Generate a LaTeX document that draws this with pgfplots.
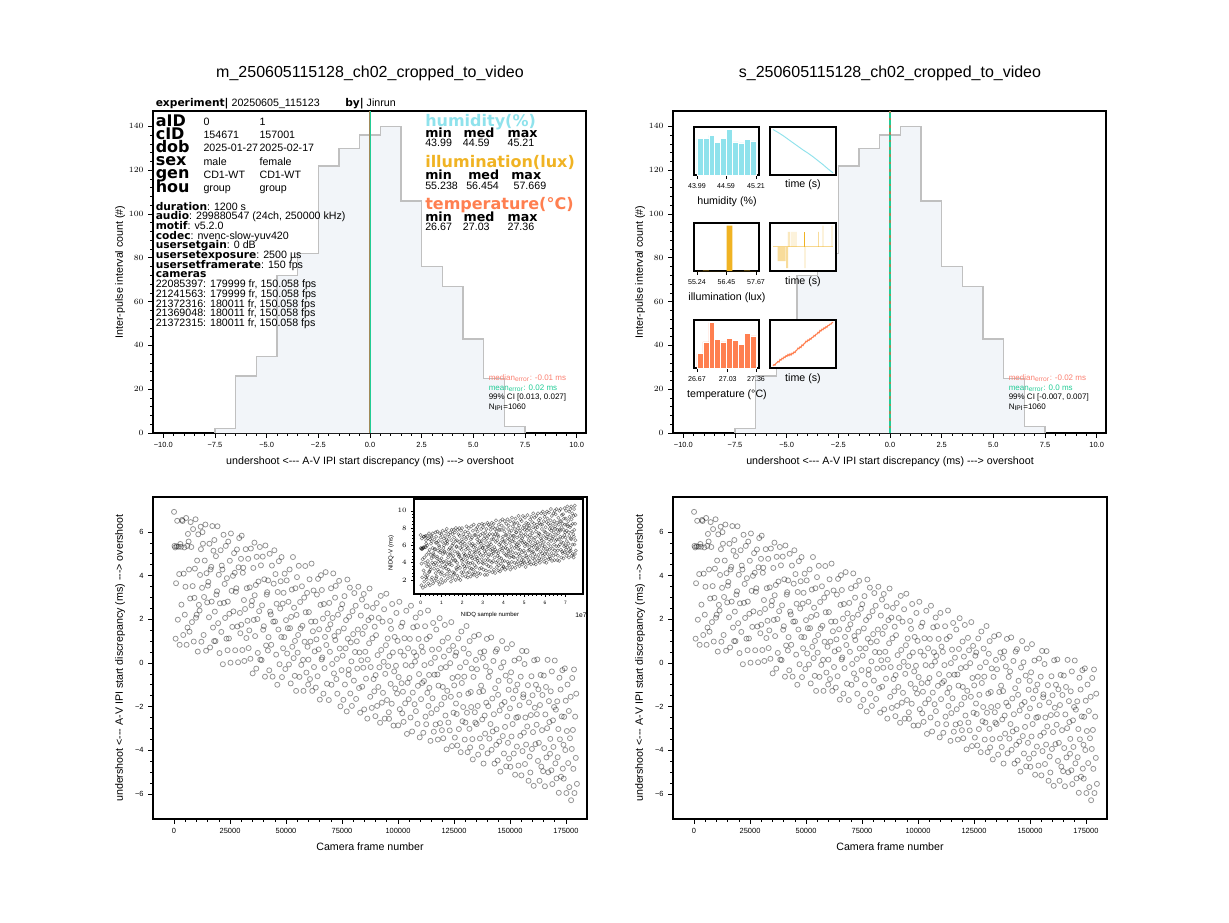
\documentclass[border=0pt]{standalone}
\usepackage{fontspec}
\setmainfont{Liberation Sans}
\newfontfamily\dv{DejaVu Sans}
\usepackage{pgfplots}
\pgfplotsset{compat=1.18}
\usepackage{pgfplotstable}

\definecolor{histfill}{HTML}{F2F5F9}
\definecolor{histedge}{HTML}{C0C0C0}
\definecolor{meancol}{HTML}{22CC96}
\definecolor{medline}{HTML}{A08A5A}
\definecolor{medtxt}{HTML}{FA7F70}
\definecolor{humid}{HTML}{8FE2EC}
\definecolor{illum}{HTML}{F0B323}
\definecolor{temp}{HTML}{FF7F50}

% IPI discrepancy histogram (step outline, 1 ms bins)
\pgfplotstableread{
x n
-7.5 0
-7.5 2
-6.5 26
-5.5 35
-4.5 72
-3.5 82
-2.5 122
-1.5 130
-0.5 136
0.5 140
1.5 106
2.5 76
3.5 67
4.5 43
5.5 25
6.5 3
7.5 3
7.5 0
}\hist

% f: camera frame (thousands), d: A-V discrepancy (ms), v: NIDQ-V (ms)
\pgfplotstableread{
f d v
0.0 6.92 7.2
0.2 5.36 5.7
0.5 5.29 5.6
0.7 1.11 1.4
0.9 3.65 3.9
1.2 5.34 5.6
1.4 6.51 6.8
1.7 1.98 2.3
2.0 5.32 5.6
2.3 4.07 4.4
2.5 0.83 1.1
2.8 5.45 5.7
3.1 5.32 5.8
3.3 2.67 3.1
3.6 6.55 7.0
3.8 6.50 7.0
4.1 1.28 1.8
4.3 4.09 4.6
4.6 5.29 5.8
4.8 2.21 2.7
5.1 3.49 4.0
5.4 6.64 7.1
5.6 0.83 1.3
5.9 5.36 5.8
6.0 1.62 2.3
6.2 5.91 6.6
6.5 5.56 6.2
6.7 4.28 4.9
6.9 1.43 2.1
7.2 2.95 3.6
7.4 6.45 7.1
7.7 5.31 6.0
8.0 1.87 2.5
8.3 3.52 4.2
8.5 6.13 6.8
8.8 0.98 1.6
9.1 2.98 3.8
9.3 4.32 5.2
9.6 6.58 7.4
9.8 2.07 2.9
10.1 2.21 3.0
10.3 4.69 5.5
10.6 0.52 1.4
10.8 5.89 6.7
11.1 2.66 3.5
11.4 2.40 3.2
11.6 4.03 4.9
11.9 6.24 7.1
12.0 5.21 6.2
12.2 0.97 2.0
12.5 3.44 4.5
12.7 5.99 7.0
12.9 5.46 6.5
13.2 1.28 2.3
13.4 3.02 4.0
13.7 4.69 5.7
14.0 6.34 7.4
14.3 0.56 1.6
14.5 4.11 5.1
14.8 2.77 3.8
15.1 3.54 4.7
15.3 3.71 4.9
15.6 2.09 3.3
15.8 5.46 6.7
16.1 0.71 1.9
16.3 4.28 5.5
16.6 4.40 5.6
16.8 2.81 4.0
17.1 6.27 7.5
17.4 1.62 2.8
17.6 5.14 6.3
17.9 1.00 2.2
18.0 5.63 7.0
18.2 2.35 3.7
18.5 1.00 2.4
18.7 4.89 6.3
18.9 3.13 4.5
19.2 3.28 4.7
19.4 6.26 7.6
19.7 1.82 3.2
20.0 4.04 5.4
20.3 0.45 1.8
20.5 2.73 4.1
20.8 5.16 6.5
21.1 1.42 3.0
21.3 4.46 6.0
21.6 4.28 5.8
21.8 -0.06 1.5
22.1 5.87 7.4
22.3 2.75 4.3
22.6 3.62 5.2
22.8 2.06 3.6
23.1 5.36 6.9
23.4 1.11 2.7
23.6 3.88 5.4
23.9 0.58 2.1
24.0 2.81 4.5
24.2 5.56 7.3
24.5 1.12 2.9
24.7 2.25 4.0
24.9 4.68 6.4
25.2 0.01 1.7
25.4 5.93 7.7
25.7 3.30 5.0
26.0 1.65 3.4
26.3 3.99 5.7
26.5 2.36 4.1
26.8 5.03 6.8
27.1 4.13 6.0
27.3 0.58 2.5
27.6 3.26 5.2
27.8 3.42 5.3
28.1 5.20 7.1
28.3 1.67 3.6
28.6 0.03 1.9
28.8 4.38 6.3
29.1 5.72 7.6
29.4 2.29 4.2
29.6 1.36 3.3
29.9 4.77 6.7
30.0 1.75 3.8
30.2 5.83 7.9
30.5 0.59 2.7
30.7 4.13 6.2
30.9 4.36 6.5
31.2 2.88 5.0
31.4 0.09 2.2
31.7 2.47 4.6
32.0 5.21 7.3
32.3 1.14 3.2
32.5 3.42 5.5
32.8 1.93 4.0
33.1 4.77 7.0
33.3 0.68 3.0
33.6 1.49 3.8
33.8 3.46 5.7
34.1 0.19 2.5
34.3 5.24 7.5
34.6 2.63 4.9
34.8 2.84 5.1
35.1 -0.48 1.8
35.4 4.35 6.6
35.6 1.97 4.2
35.9 5.51 7.8
36.0 3.10 5.6
36.2 1.23 3.7
36.5 3.57 6.0
36.7 -0.26 2.2
36.9 4.86 7.3
37.2 2.01 4.5
37.4 0.46 2.9
37.7 3.73 6.2
38.0 2.37 4.8
38.3 5.31 7.8
38.5 0.15 2.6
38.8 4.47 6.9
39.1 0.13 2.8
39.3 2.64 5.3
39.6 4.87 7.5
39.8 1.52 4.2
40.1 1.68 4.3
40.3 3.83 6.5
40.6 -0.63 2.0
40.8 5.38 8.0
41.1 0.80 3.4
41.4 3.13 5.8
41.6 3.24 5.9
41.9 0.57 3.2
42.0 3.78 6.6
42.2 1.18 4.0
42.5 -0.34 2.5
42.7 5.00 7.8
42.9 2.35 5.2
43.2 2.22 5.0
43.4 0.83 3.6
43.7 4.46 7.3
44.0 -0.63 2.2
44.3 1.89 4.7
44.5 3.63 6.4
44.8 5.16 8.0
45.1 1.90 4.9
45.3 4.07 7.1
45.6 0.38 3.4
45.8 2.71 5.7
46.1 -1.00 2.0
46.3 3.25 6.2
46.6 1.53 4.5
46.8 4.66 7.7
47.1 -0.06 2.9
47.4 2.49 5.5
47.6 3.74 6.7
47.9 1.19 4.2
48.0 4.85 8.0
48.2 -0.65 2.5
48.5 2.72 5.9
48.7 0.67 3.8
48.9 3.21 6.4
49.2 1.18 4.4
49.4 4.09 7.3
49.7 -0.28 2.9
50.0 1.96 5.1
50.3 3.78 7.0
50.5 0.43 3.6
50.8 1.59 4.8
51.1 2.80 6.2
51.3 -0.07 3.3
51.6 4.28 7.6
51.8 1.59 4.9
52.1 -0.94 2.4
52.3 2.11 5.5
52.6 3.36 6.7
52.8 0.74 4.1
53.1 4.85 8.2
53.4 0.22 3.6
53.6 2.53 5.9
53.9 -0.59 2.8
54.0 1.01 4.5
54.2 3.42 7.0
54.5 -1.28 2.3
54.7 2.20 5.7
54.9 3.93 7.5
55.2 0.47 4.0
55.4 1.28 4.8
55.7 4.45 8.0
56.0 -0.64 2.9
56.3 2.79 6.3
56.5 1.58 5.1
56.8 -0.09 3.4
57.1 3.51 7.2
57.3 1.70 5.4
57.6 0.14 3.9
57.8 -1.28 2.4
58.1 2.99 6.7
58.3 0.97 4.7
58.6 4.44 8.2
58.8 2.32 6.0
59.1 -0.44 3.3
59.4 3.21 6.9
59.6 0.74 4.5
59.9 -0.99 2.7
60.0 0.15 4.0
60.2 2.33 6.2
60.5 3.83 7.7
60.7 -0.74 3.2
60.9 0.98 4.9
61.2 1.89 5.8
61.4 4.55 8.4
61.7 -1.28 2.6
62.0 1.45 5.3
62.3 3.32 7.2
62.5 -0.19 3.7
62.8 0.53 4.4
63.1 1.90 6.0
63.3 -1.13 2.9
63.6 1.08 5.2
63.8 3.13 7.2
64.1 -0.61 3.5
64.3 3.85 7.9
64.6 0.62 4.7
64.8 1.54 5.6
65.1 -1.68 2.4
65.4 2.66 6.7
65.6 4.02 8.1
65.9 0.16 4.2
66.0 3.34 7.6
66.2 0.25 4.5
66.5 2.03 6.3
66.7 -1.41 2.8
66.9 2.70 7.0
67.2 -0.24 4.0
67.4 1.19 5.4
67.7 4.16 8.4
68.0 0.82 5.1
68.3 -0.95 3.3
68.5 2.27 6.5
68.8 1.54 5.8
69.1 -1.70 2.7
69.3 2.75 7.2
69.6 0.51 4.9
69.8 1.77 6.2
70.1 3.42 7.9
70.3 -1.00 3.4
70.6 -0.05 4.4
70.8 2.06 6.5
71.1 4.10 8.5
71.4 -0.48 4.0
71.6 1.23 5.7
71.9 2.99 7.4
72.0 1.05 5.7
72.2 3.53 8.1
72.5 -0.74 3.9
72.7 0.18 4.8
72.9 -1.41 3.2
73.2 2.21 6.8
73.4 1.43 6.0
73.7 3.76 8.4
74.0 0.66 5.3
74.3 -1.99 2.6
74.5 2.48 7.1
74.8 -0.33 4.3
75.1 2.69 7.5
75.3 0.33 5.1
75.6 -1.69 3.1
75.8 1.58 6.4
76.1 3.06 7.9
76.3 -0.99 3.8
76.6 0.67 5.5
76.8 1.96 6.8
77.1 -2.22 2.6
77.4 3.82 8.6
77.6 1.11 5.9
77.9 -0.54 4.3
78.0 -0.31 4.7
78.2 2.12 7.1
78.5 3.45 8.4
78.7 -1.40 3.6
78.9 0.94 5.9
79.2 0.07 5.0
79.4 -1.97 3.0
79.7 2.37 7.3
80.0 1.32 6.3
80.3 -0.81 4.2
80.5 3.20 8.2
80.8 0.50 5.5
81.1 2.62 7.8
81.3 -1.65 3.5
81.6 0.99 6.1
81.8 -0.26 4.9
82.1 1.53 6.7
82.3 3.49 8.6
82.6 -1.15 4.0
82.8 0.48 5.6
83.1 -2.28 2.9
83.4 2.17 7.3
83.6 0.12 5.3
83.9 2.90 8.1
84.0 -1.09 4.2
84.2 1.33 6.7
84.5 -0.22 5.1
84.7 3.16 8.5
84.9 -2.13 3.2
85.2 1.65 7.0
85.4 0.51 5.8
85.7 -0.72 4.6
86.0 2.59 7.9
86.3 -2.55 2.8
86.5 0.15 5.5
86.8 1.96 7.3
87.1 0.90 6.4
87.3 3.41 8.9
87.6 -1.55 4.0
87.8 -0.19 5.3
88.1 2.08 7.6
88.3 -2.06 3.5
88.6 1.13 6.6
88.8 2.52 8.0
89.1 -0.74 4.8
89.4 -1.30 4.2
89.6 1.66 7.2
89.9 -2.44 3.1
90.0 -0.56 5.1
90.2 1.27 7.0
90.5 2.74 8.4
90.7 -1.97 3.7
90.9 0.36 6.1
91.2 -1.10 4.6
91.4 2.06 7.8
91.7 -0.20 5.5
92.0 -2.74 3.0
92.3 3.07 8.8
92.5 0.59 6.3
92.8 -1.82 3.9
93.1 1.89 7.8
93.3 -1.37 4.5
93.6 0.05 5.9
93.8 2.46 8.3
94.1 -2.55 3.3
94.3 -0.50 5.4
94.6 0.81 6.7
94.8 3.17 9.0
95.1 -1.70 4.2
95.4 1.12 7.0
95.6 -0.15 5.7
95.9 -2.26 3.6
96.0 -2.56 3.5
96.2 0.31 6.4
96.5 1.92 8.0
96.7 -0.96 5.1
96.9 1.56 7.6
97.2 -1.87 4.2
97.4 2.70 8.8
97.7 0.48 6.5
98.0 -2.87 3.2
98.3 -0.39 5.7
98.5 1.19 7.2
98.8 -1.17 4.9
99.1 -0.13 6.1
99.3 2.29 8.5
99.6 -1.40 4.8
99.8 1.01 7.2
100.1 -2.86 3.4
100.3 -0.65 5.6
100.6 2.80 9.0
100.8 -2.12 4.1
101.1 0.52 6.8
101.4 1.66 7.9
101.6 -0.93 5.3
101.9 -2.31 3.9
102.0 1.84 8.3
102.2 -1.32 5.1
102.5 -2.70 3.7
102.7 0.33 6.7
102.9 1.13 7.5
103.2 -1.85 4.6
103.4 -0.10 6.3
103.7 2.39 8.8
104.0 -3.25 3.2
104.3 -0.91 5.5
104.5 0.67 7.1
104.8 -1.66 4.8
105.1 -0.69 5.9
105.3 1.10 7.7
105.6 -2.50 4.1
105.8 2.62 9.2
106.1 -0.13 6.5
106.3 -3.14 3.5
106.6 -1.36 5.2
106.8 1.63 8.2
107.1 0.49 7.1
107.4 -1.89 4.7
107.6 0.06 6.7
107.9 2.08 8.7
108.0 -2.21 4.6
108.2 0.32 7.1
108.5 1.68 8.5
108.7 -2.79 4.0
108.9 -1.05 5.7
109.2 1.10 7.9
109.4 -0.51 6.3
109.7 -3.41 3.4
110.0 2.29 9.1
110.3 -1.66 5.1
110.5 0.75 7.5
110.8 -0.92 5.9
111.1 0.51 7.5
111.3 -3.20 3.8
111.6 -0.83 6.1
111.8 -0.10 6.9
112.1 1.68 8.6
112.3 -2.46 4.5
112.6 -2.81 4.1
112.8 1.09 8.0
113.1 -1.37 5.6
113.4 2.40 9.4
113.6 -1.97 5.0
113.9 -0.55 6.4
114.0 -1.14 6.0
114.2 1.21 8.3
114.5 -3.57 3.6
114.7 -0.01 7.1
114.9 -2.30 4.8
115.2 0.61 7.7
115.4 -1.62 5.5
115.7 1.83 9.0
116.0 -3.15 4.0
116.3 -0.54 6.6
116.5 0.24 7.4
116.8 -2.82 4.3
117.1 1.53 8.8
117.3 -2.12 5.2
117.6 -0.53 6.8
117.8 -3.51 3.8
118.1 -1.04 6.3
118.3 0.64 8.0
118.6 2.05 9.4
118.8 -2.76 4.6
119.1 -0.24 7.1
119.4 -1.90 5.4
119.6 -3.08 4.2
119.9 0.98 8.3
120.0 -1.10 6.4
120.2 -3.45 4.0
120.5 0.29 7.8
120.7 -1.59 5.9
120.9 1.74 9.2
121.2 -2.41 5.1
121.4 -0.19 7.3
121.7 -3.96 3.5
122.0 -1.28 6.2
122.3 1.15 8.6
122.5 -2.73 4.8
122.8 0.58 8.1
123.1 -3.09 4.6
123.3 -0.01 7.7
123.6 -1.55 6.1
123.8 1.87 9.5
124.1 -3.81 3.9
124.3 -0.69 7.0
124.6 0.78 8.5
124.8 -2.28 5.4
125.1 -1.03 6.6
125.4 -3.42 4.3
125.6 0.33 8.0
125.9 -1.86 5.8
126.0 0.48 8.3
126.2 -2.34 5.5
126.5 -3.78 4.1
126.7 -0.63 7.2
126.9 1.12 9.0
127.2 -3.03 4.8
127.4 -1.46 6.4
127.7 -0.20 7.7
128.0 -4.09 3.8
128.3 1.44 9.3
128.5 -0.92 6.9
128.8 -2.67 5.2
129.1 -2.02 6.0
129.3 0.66 8.7
129.6 -0.63 7.4
129.8 -3.51 4.5
130.1 -2.73 5.3
130.3 0.03 8.1
130.6 1.69 9.7
130.8 -2.28 5.8
131.1 -4.09 3.9
131.4 -1.40 6.6
131.6 0.42 8.5
131.9 -3.02 5.0
132.0 1.00 9.2
132.2 -3.87 4.3
132.5 -1.33 6.9
132.7 -2.02 6.2
132.9 -0.25 8.0
133.2 -3.49 4.7
133.4 -4.42 3.8
133.7 -0.64 7.6
134.0 1.22 9.4
134.3 -2.26 6.0
134.5 -2.73 5.5
134.8 0.14 8.4
135.1 -2.80 5.6
135.3 -0.29 8.1
135.6 -1.97 6.4
135.8 -4.20 4.2
136.1 1.29 9.7
136.3 -1.33 7.1
136.6 -3.46 4.9
136.8 0.48 8.9
137.1 -1.04 7.4
137.4 -3.85 4.5
137.6 -2.59 5.8
137.9 0.23 8.6
138.0 -1.29 7.3
138.2 -4.61 4.0
138.5 0.53 9.1
138.7 -2.41 6.2
138.9 -3.24 5.3
139.2 -0.16 8.4
139.4 -1.82 6.8
139.7 1.10 9.7
140.0 -4.14 4.4
140.3 -1.98 6.6
140.5 -0.64 7.9
140.8 -3.47 5.1
141.1 -0.39 8.4
141.3 -2.80 6.0
141.6 1.17 9.9
141.8 -3.98 4.8
142.1 -1.63 7.1
142.3 -3.14 5.6
142.6 0.09 8.8
142.8 -2.35 6.4
143.1 -4.61 4.1
143.4 -1.16 7.6
143.6 0.52 9.3
143.9 -3.75 5.0
144.0 -3.04 5.9
144.2 0.63 9.6
144.5 -4.47 4.5
144.7 -1.46 7.5
144.9 -0.82 8.1
145.2 -3.60 5.3
145.4 -2.18 6.8
145.7 -4.98 4.0
146.0 -0.21 8.7
146.3 -1.92 7.0
146.5 1.00 9.9
146.8 -3.35 5.6
147.1 0.03 9.1
147.3 -4.15 5.0
147.6 -1.79 7.3
147.8 -2.93 6.2
148.1 -0.58 8.5
148.3 -4.74 4.4
148.6 0.66 9.8
148.8 -2.45 6.7
149.1 -3.66 5.5
149.4 -1.23 7.9
149.6 -4.38 4.7
149.9 -0.82 8.3
150.0 -2.08 7.2
150.2 -4.76 4.5
150.5 -0.43 8.9
150.7 -3.37 5.9
150.9 0.86 10.2
151.2 -2.80 6.5
151.4 -1.63 7.7
151.7 -4.15 5.1
152.0 0.11 9.4
152.3 -5.12 4.2
152.5 -1.26 8.0
152.8 -2.51 6.8
153.1 -3.83 5.6
153.3 -0.99 8.5
153.6 -2.48 7.0
153.8 -4.70 4.8
154.1 0.20 9.7
154.3 -1.94 7.5
154.6 -3.34 6.1
154.8 -0.63 8.8
155.1 -5.15 4.3
155.4 0.55 10.0
155.6 -4.04 5.4
155.9 -1.57 7.9
156.0 -1.44 8.2
156.2 -3.19 6.5
156.5 -0.05 9.6
156.7 -4.63 5.0
156.9 -2.50 7.2
157.2 -3.74 5.9
157.4 0.54 10.2
157.7 -2.91 6.7
158.0 -1.02 8.6
158.3 -5.40 4.3
158.5 -1.81 7.8
158.8 -4.29 5.4
159.1 -5.02 4.8
159.3 -2.39 7.4
159.6 -0.61 9.2
159.8 -3.94 5.9
160.1 -1.48 8.4
160.3 -3.17 6.7
160.6 -5.63 4.2
160.8 0.12 10.0
161.1 -2.05 7.8
161.4 -3.72 6.1
161.6 -1.00 8.8
161.9 -2.83 7.0
162.0 -2.35 7.7
162.2 0.16 10.2
162.5 -4.49 5.5
162.7 -1.21 8.8
162.9 -3.66 6.4
163.2 -5.40 4.6
163.4 -1.93 8.1
163.7 -0.55 9.5
164.0 -4.75 5.3
164.3 -3.08 6.9
164.5 -1.47 8.5
164.8 -4.96 5.1
165.1 -0.58 9.6
165.3 -3.90 6.3
165.6 -5.65 4.5
165.8 -2.36 7.8
166.1 -1.10 9.1
166.3 -4.33 5.9
166.6 -2.99 7.2
166.8 0.14 10.3
167.1 -5.01 5.2
167.4 -1.75 8.4
167.6 -2.71 7.5
167.9 -4.16 6.0
168.0 -3.48 6.9
168.2 -1.30 9.1
168.5 -4.92 5.5
168.7 -0.39 10.0
168.9 -5.55 4.8
169.2 -2.63 7.7
169.4 -3.85 6.5
169.7 -2.02 8.4
170.0 0.11 10.5
170.3 -4.60 5.8
170.5 -2.14 8.2
170.8 -5.29 5.1
171.1 -1.76 8.8
171.3 -4.32 6.2
171.6 -3.03 7.5
171.8 -5.95 4.6
172.1 -0.68 9.9
172.3 -3.50 7.1
172.6 -1.22 9.3
172.8 -5.21 5.3
173.1 -2.45 8.1
173.4 -0.33 10.2
173.6 -4.84 5.7
173.9 -3.75 6.8
174.0 -5.30 5.4
174.2 -2.47 8.3
174.5 -0.25 10.5
174.7 -3.99 6.7
174.9 -1.73 9.0
175.2 -5.96 4.8
175.4 -3.12 7.6
175.7 -0.99 9.7
176.0 -4.59 6.1
176.3 -2.20 8.5
176.5 -5.69 5.0
176.8 -3.45 7.3
177.1 -1.55 9.4
177.3 -6.29 4.6
177.6 -3.94 7.0
177.8 -0.69 10.2
178.1 -3.07 7.8
178.3 -4.85 6.1
178.6 -0.30 10.6
178.8 -5.96 5.0
179.1 -2.46 8.5
179.4 -4.35 6.6
179.6 -1.41 9.5
179.9 -5.54 5.4
}\scat

\pgfplotsset{
  mplax/.style={
    scale only axis,
    axis line style={line width=0.8pt},
    tick align=outside,
    xtick pos=left, ytick pos=left,
    major tick length=3.5pt, minor tick length=2pt,
    major tick style={black, line width=0.6pt},
    minor tick style={black, line width=0.45pt},
    tick label style={font=\fontsize{5.6}{6.5}\selectfont},
  },
  histax/.style={
    mplax, width=324.75pt, height=241.5pt,
    xmin=-10.5, xmax=10.45, ymin=0, ymax=147,
    xtick={-10,-7.5,-5,-2.5,0,2.5,5,7.5,10},
    xticklabels={−10.0,−7.5,−5.0,−2.5,0.0,2.5,5.0,7.5,10.0},
    minor x tick num=4,
    ytick={0,20,40,60,80,100,120,140},
    minor y tick num=4,
  },
  scatax/.style={
    mplax, width=325.5pt, height=241.5pt,
    xmin=-9.4, xmax=184.4, ymin=-7.15, ymax=7.6,
    xtick={0,25,50,75,100,125,150,175},
    xticklabels={0,25000,50000,75000,100000,125000,150000,175000},
    minor x tick num=4,
    ytick={-6,-4,-2,0,2,4,6},
    yticklabels={−6,−4,−2,0,2,4,6},
    minor y tick num=3,
  },
  insetax/.style={
    scale only axis,
    axis background/.style={fill=white},
    axis line style={line width=0.8pt},
    tick align=outside,
    xtick pos=left,
    ytick=\empty,
    major tick length=3pt, minor tick length=1.8pt,
    major tick style={black, line width=0.5pt},
    minor tick style={black, line width=0.4pt},
    tick label style={font=\fontsize{5.3}{6}\selectfont},
    width=48.75pt, height=36pt,
  },
  timeax/.style={insetax, xtick=\empty, width=49.5pt, xmin=-60, xmax=1260},
  scatmark/.style={only marks, mark=o, mark size=1.9pt,
    mark options={draw=black, draw opacity=0.42, line width=0.6pt}},
}

\begin{document}
\begin{tikzpicture}
\path[use as bounding box] (0,0) rectangle (921.75pt,-691.5pt);

% ---------- top left: discrepancy histogram ----------
\begin{axis}[histax, at={(114.75pt,-83.25pt)}, anchor=north west]
\addplot[const plot, fill=histfill, draw=none] table[x=x,y=n] {\hist} \closedcycle;
\addplot[const plot, draw=histedge, line width=1.1pt] table[x=x,y=n] {\hist};
\addplot[medline, line width=1.4pt] coordinates {(-0.01,0) (-0.01,147)};
\addplot[meancol, line width=1.1pt] coordinates {(0.02,0) (0.02,147)};
\end{axis}

% ---------- top right: discrepancy histogram ----------
\begin{axis}[histax, at={(504.75pt,-83.25pt)}, anchor=north west]
\addplot[const plot, fill=histfill, draw=none] table[x=x,y=n] {\hist} \closedcycle;
\addplot[const plot, draw=histedge, line width=1.1pt] table[x=x,y=n] {\hist};
\addplot[medline, line width=1.4pt] coordinates {(-0.02,0) (-0.02,147)};
\addplot[meancol, line width=1.1pt, dash pattern=on 3.5pt off 2pt] coordinates {(0.0,0) (0.0,147)};
\end{axis}

% humidity
\begin{axis}[insetax, at={(520.5pt,-95.25pt)}, anchor=north west,
  xmin=43.929, xmax=45.271, ymin=0, ymax=145,
  xtick={43.99,44.59,45.21}, xticklabels={43.99,44.59,45.21}, minor x tick num=3]
\addplot[ybar interval, fill=humid, draw=white, line width=0.3pt] coordinates {
(43.990,110) (44.112,110) (44.234,120) (44.356,98) (44.478,110) (44.600,138)
(44.722,100) (44.844,97) (44.966,108) (45.088,103) (45.210,0)};
\end{axis}
\begin{axis}[timeax, at={(577.5pt,-95.25pt)}, anchor=north west, ymin=43.93, ymax=45.27]
\addplot[humid, line width=0.7pt] coordinates {
(0,45.20) (100,45.12) (200,45.03) (300,44.93) (400,44.83) (500,44.73) (600,44.63)
(700,44.54) (800,44.44) (900,44.33) (1000,44.22) (1100,44.10) (1200,43.99)};
\end{axis}

% illumination
\begin{axis}[insetax, at={(520.5pt,-167.25pt)}, anchor=north west,
  xmin=55.116, xmax=57.791, ymin=0, ymax=145,
  xtick={55.238,56.454,57.669}, xticklabels={55.24,56.45,57.67}, minor x tick num=3]
\addplot[ybar interval, fill=illum, draw=none] coordinates {
(55.238,0) (55.481,1.2) (55.724,0) (55.967,0) (56.210,0) (56.454,137)
(56.697,0) (56.940,0) (57.183,0.8) (57.426,0) (57.669,0)};
\end{axis}
\begin{axis}[timeax, at={(577.5pt,-167.25pt)}, anchor=north west, ymin=-1.22, ymax=1.2]
\addplot[illum, draw opacity=0.5, line width=0.5pt] coordinates {(0,0) (1200,0)};
\addplot[ybar, bar width=0.55pt, fill=illum, fill opacity=0.45, draw=none] coordinates {
(100,-0.72) (118,-0.72) (135,-0.72) (150,-0.72) (162,-0.72) (176,-0.72) (189,-0.72)
(203,-0.72) (216,-0.72) (230,-0.72) (243,-0.72) (270,-1.08) (285,-1.08) (297,-1.08)
(303,0.75) (337,0.75) (378,0.75) (418,0.75) (458,0.75) (640,-1.08)
(910,0.75) (998,1.07) (1180,1.07)};
\addplot[ybar, bar width=0.6pt, fill=illum, draw=none] coordinates {(620,0.75)};
\end{axis}

% temperature
\begin{axis}[insetax, at={(520.5pt,-240pt)}, anchor=north west,
  xmin=26.6355, xmax=27.3945, ymin=0, ymax=143,
  xtick={26.67,27.03,27.36}, xticklabels={26.67,27.03,27.36}, minor x tick num=3]
\addplot[ybar interval, fill=temp, draw=white, line width=0.3pt] coordinates {
(26.670,43) (26.739,78) (26.808,135) (26.877,86) (26.946,78) (27.015,88)
(27.084,83) (27.153,70) (27.222,103) (27.291,96) (27.360,0)};
\end{axis}
\begin{axis}[timeax, at={(577.5pt,-240pt)}, anchor=north west, ymin=26.6355, ymax=27.3945]
\addplot[temp, line width=0.8pt] coordinates {
(0,26.67) (20,26.69) (40,26.68) (60,26.71) (80,26.72) (100,26.74) (120,26.73)
(140,26.77) (160,26.76) (180,26.79) (200,26.78) (220,26.81) (240,26.80) (260,26.83)
(280,26.82) (300,26.85) (320,26.83) (340,26.86) (360,26.84) (380,26.87) (400,26.86)
(420,26.89) (440,26.88) (460,26.91) (480,26.92) (500,26.95) (520,26.94) (540,26.97)
(560,26.96) (580,27.00) (600,26.99) (620,27.02) (640,27.03) (660,27.06) (680,27.05)
(700,27.08) (720,27.07) (740,27.10) (760,27.09) (780,27.12) (800,27.12) (820,27.15)
(840,27.14) (860,27.17) (880,27.17) (900,27.20) (920,27.19) (940,27.23) (960,27.22)
(980,27.25) (1000,27.24) (1020,27.27) (1040,27.26) (1060,27.29) (1080,27.28)
(1100,27.31) (1120,27.31) (1140,27.33) (1160,27.33) (1180,27.35) (1200,27.36)};
\end{axis}

% ---------- bottom left: discrepancy over frames ----------
\begin{axis}[scatax, at={(114.75pt,-372.75pt)}, anchor=north west]
\addplot[scatmark] table[x=f,y=d] {\scat};
\end{axis}
\begin{axis}[scale only axis, at={(310.5pt,-374.25pt)}, anchor=north west,
  width=126.75pt, height=71.25pt,
  axis background/.style={fill=white},
  axis line style={line width=0.8pt},
  tick align=outside, xtick pos=left, ytick pos=left,
  major tick length=2pt, minor tick length=1.2pt,
  major tick style={black, line width=0.4pt},
  minor tick style={black, line width=0.3pt},
  tick label style={font=\fontsize{3.6}{4}\selectfont},
  xmin=-7.77, xmax=188.2, ymin=0.38, ymax=11.36,
  xtick={0,24,48,72,96,120,144,168}, xticklabels={0,1,2,3,4,5,6,7},
  minor x tick num=4,
  ytick={2,4,6,8,10}, minor y tick num=4]
\addplot[only marks, mark=o, mark size=1.2pt,
  mark options={draw=black, draw opacity=0.5, line width=0.4pt}] table[x=f,y=v] {\scat};
\end{axis}

% ---------- bottom right: discrepancy over frames ----------
\begin{axis}[scatax, at={(504.75pt,-372.75pt)}, anchor=north west]
\addplot[scatmark] table[x=f,y=d] {\scat};
\end{axis}

% ---------- text ----------
\begin{scope}[x=0.75pt, y=-0.75pt]
\node[font=\fontsize{12}{14}\selectfont] at (370,73) {m\_250605115128\_ch02\_cropped\_to\_video};
\node[font=\fontsize{12}{14}\selectfont] at (890,73) {s\_250605115128\_ch02\_cropped\_to\_video};

\node[font=\fontsize{8}{9}\selectfont] at (370,462) {undershoot <-{}-{}- A-V IPI start discrepancy (ms) -{}-{}-> overshoot};
\node[font=\fontsize{8}{9}\selectfont] at (890,462) {undershoot <-{}-{}- A-V IPI start discrepancy (ms) -{}-{}-> overshoot};
\node[font=\fontsize{8}{9}\selectfont, rotate=90] at (120,272) {Inter-pulse interval count (\#)};
\node[font=\fontsize{8}{9}\selectfont, rotate=90] at (640,272) {Inter-pulse interval count (\#)};
\node[font=\fontsize{8}{9}\selectfont] at (370,847) {Camera frame number};
\node[font=\fontsize{8}{9}\selectfont] at (890,847) {Camera frame number};
\node[font=\fontsize{8}{9}\selectfont, rotate=90] at (120,658) {undershoot <-{}-{}- A-V IPI start discrepancy (ms) -{}-{}-> overshoot};
\node[font=\fontsize{8}{9}\selectfont, rotate=90] at (640,658) {undershoot <-{}-{}- A-V IPI start discrepancy (ms) -{}-{}-> overshoot};

% inset labels, NIDQ panel
\node[font=\fontsize{4.5}{5}\selectfont] at (490,615) {NIDQ sample number};
\node[font=\fontsize{5}{6}\selectfont] at (581,615) {1e7};
\node[font=\fontsize{4.5}{5}\selectfont, rotate=90] at (391,553) {NIDQ-V (ms)};

% inset labels, environment panels
\node[font=\fontsize{8}{9}\selectfont] at (727,201.7) {humidity (\%)};
\node[font=\fontsize{8}{9}\selectfont] at (803,185) {time (s)};
\node[font=\fontsize{8}{9}\selectfont] at (727,297.7) {illumination (lux)};
\node[font=\fontsize{8}{9}\selectfont] at (803,281.7) {time (s)};
\node[font=\fontsize{8}{9}\selectfont] at (727,395) {temperature (°C)};
\node[font=\fontsize{8}{9}\selectfont] at (803,378.3) {time (s)};

% metadata header
\begin{scope}[every node/.style={anchor=base west, inner sep=0pt, font=\fontsize{8}{9}\selectfont}]
\node at (155.5,106) {{\dv\bfseries experiment|} 20250605\_115123};
\node at (345,106) {{\dv\bfseries by|} Jinrun};

\node[font=\dv\bfseries\fontsize{12}{13}\selectfont] at (155.5,126.5) {aID};
\node[font=\dv\bfseries\fontsize{12}{13}\selectfont] at (155.5,139.6) {cID};
\node[font=\dv\bfseries\fontsize{12}{13}\selectfont] at (155.5,152.7) {dob};
\node[font=\dv\bfseries\fontsize{12}{13}\selectfont] at (155.5,165.8) {sex};
\node[font=\dv\bfseries\fontsize{12}{13}\selectfont] at (155.5,178.9) {gen};
\node[font=\dv\bfseries\fontsize{12}{13}\selectfont] at (155.5,192.0) {hou};
\node at (203.3,125.7) {0};          \node at (259.3,125.7) {1};
\node at (203.3,138.8) {154671};     \node at (259.3,138.8) {157001};
\node at (203.3,151.9) {2025-01-27}; \node at (259.3,151.9) {2025-02-17};
\node at (203.3,165.0) {male};       \node at (259.3,165.0) {female};
\node at (203.3,178.1) {CD1-WT};     \node at (259.3,178.1) {CD1-WT};
\node at (203.3,191.2) {group};      \node at (259.3,191.2) {group};

\node at (155.5,210.0) {{\dv\bfseries duration}: 1200 s};
\node at (155.5,219.7) {{\dv\bfseries audio}: 299880547 (24ch, 250000 kHz)};
\node at (155.5,229.4) {{\dv\bfseries motif}: v5.2.0};
\node at (155.5,239.1) {{\dv\bfseries codec}: nvenc-slow-yuv420};
\node at (155.5,248.8) {{\dv\bfseries usersetgain}: 0 dB};
\node at (155.5,258.5) {{\dv\bfseries usersetexposure}: 2500 µs};
\node at (155.5,268.2) {{\dv\bfseries usersetframerate}: 150 fps};
\node at (155.5,277.9) {{\dv\bfseries cameras}};
\node at (155.5,287.6) {22085397: 179999 fr, 150.058 fps};
\node at (155.5,297.3) {21241563: 179999 fr, 150.058 fps};
\node at (155.5,307.0) {21372316: 180011 fr, 150.058 fps};
\node at (155.5,316.7) {21369048: 180011 fr, 150.058 fps};
\node at (155.5,326.4) {21372315: 180011 fr, 150.058 fps};

% environment summary
\node[font=\dv\bfseries\fontsize{12}{13}\selectfont, text=humid] at (425,126.5) {humidity(\%)};
\node[font=\dv\bfseries\fontsize{9.5}{10}\selectfont] at (425,137.6) {min};
\node[font=\dv\bfseries\fontsize{9.5}{10}\selectfont] at (463.3,137.6) {med};
\node[font=\dv\bfseries\fontsize{9.5}{10}\selectfont] at (507.3,137.6) {max};
\node at (425,146.8) {43.99}; \node at (462.7,146.8) {44.59}; \node at (507.3,146.8) {45.21};

\node[font=\dv\bfseries\fontsize{12}{13}\selectfont, text=illum] at (425,167.6) {illumination(lux)};
\node[font=\dv\bfseries\fontsize{9.5}{10}\selectfont] at (425,179.2) {min};
\node[font=\dv\bfseries\fontsize{9.5}{10}\selectfont] at (468,179.2) {med};
\node[font=\dv\bfseries\fontsize{9.5}{10}\selectfont] at (511,179.2) {max};
\node at (425,189) {55.238}; \node at (466,189) {56.454}; \node at (513.3,189) {57.669};

\node[font=\dv\bfseries\fontsize{12}{13}\selectfont, text=temp] at (425,209.3) {temperature(°C)};
\node[font=\dv\bfseries\fontsize{9.5}{10}\selectfont] at (425,221.2) {min};
\node[font=\dv\bfseries\fontsize{9.5}{10}\selectfont] at (463.3,221.2) {med};
\node[font=\dv\bfseries\fontsize{9.5}{10}\selectfont] at (507.3,221.2) {max};
\node at (425,230.7) {26.67}; \node at (462.7,230.7) {27.03}; \node at (507.3,230.7) {27.36};

% error statistics
\node[font=\fontsize{6}{7}\selectfont, text=medtxt] at (488.5,380) {median\textsubscript{error}: -0.01 ms};
\node[font=\fontsize{6}{7}\selectfont, text=meancol] at (488.5,390) {mean\textsubscript{error}: 0.02 ms};
\node[font=\fontsize{6}{7}\selectfont] at (488.5,399.5) {99\% CI [0.013, 0.027]};
\node[font=\fontsize{6}{7}\selectfont] at (488.5,409) {N\textsubscript{IPI}=1060};

\node[font=\fontsize{6}{7}\selectfont, text=medtxt] at (1008.5,380) {median\textsubscript{error}: -0.02 ms};
\node[font=\fontsize{6}{7}\selectfont, text=meancol] at (1008.5,390) {mean\textsubscript{error}: 0.0 ms};
\node[font=\fontsize{6}{7}\selectfont] at (1008.5,399.5) {99\% CI [-0.007, 0.007]};
\node[font=\fontsize{6}{7}\selectfont] at (1008.5,409) {N\textsubscript{IPI}=1060};
\end{scope}
\end{scope}
\end{tikzpicture}
\end{document}
